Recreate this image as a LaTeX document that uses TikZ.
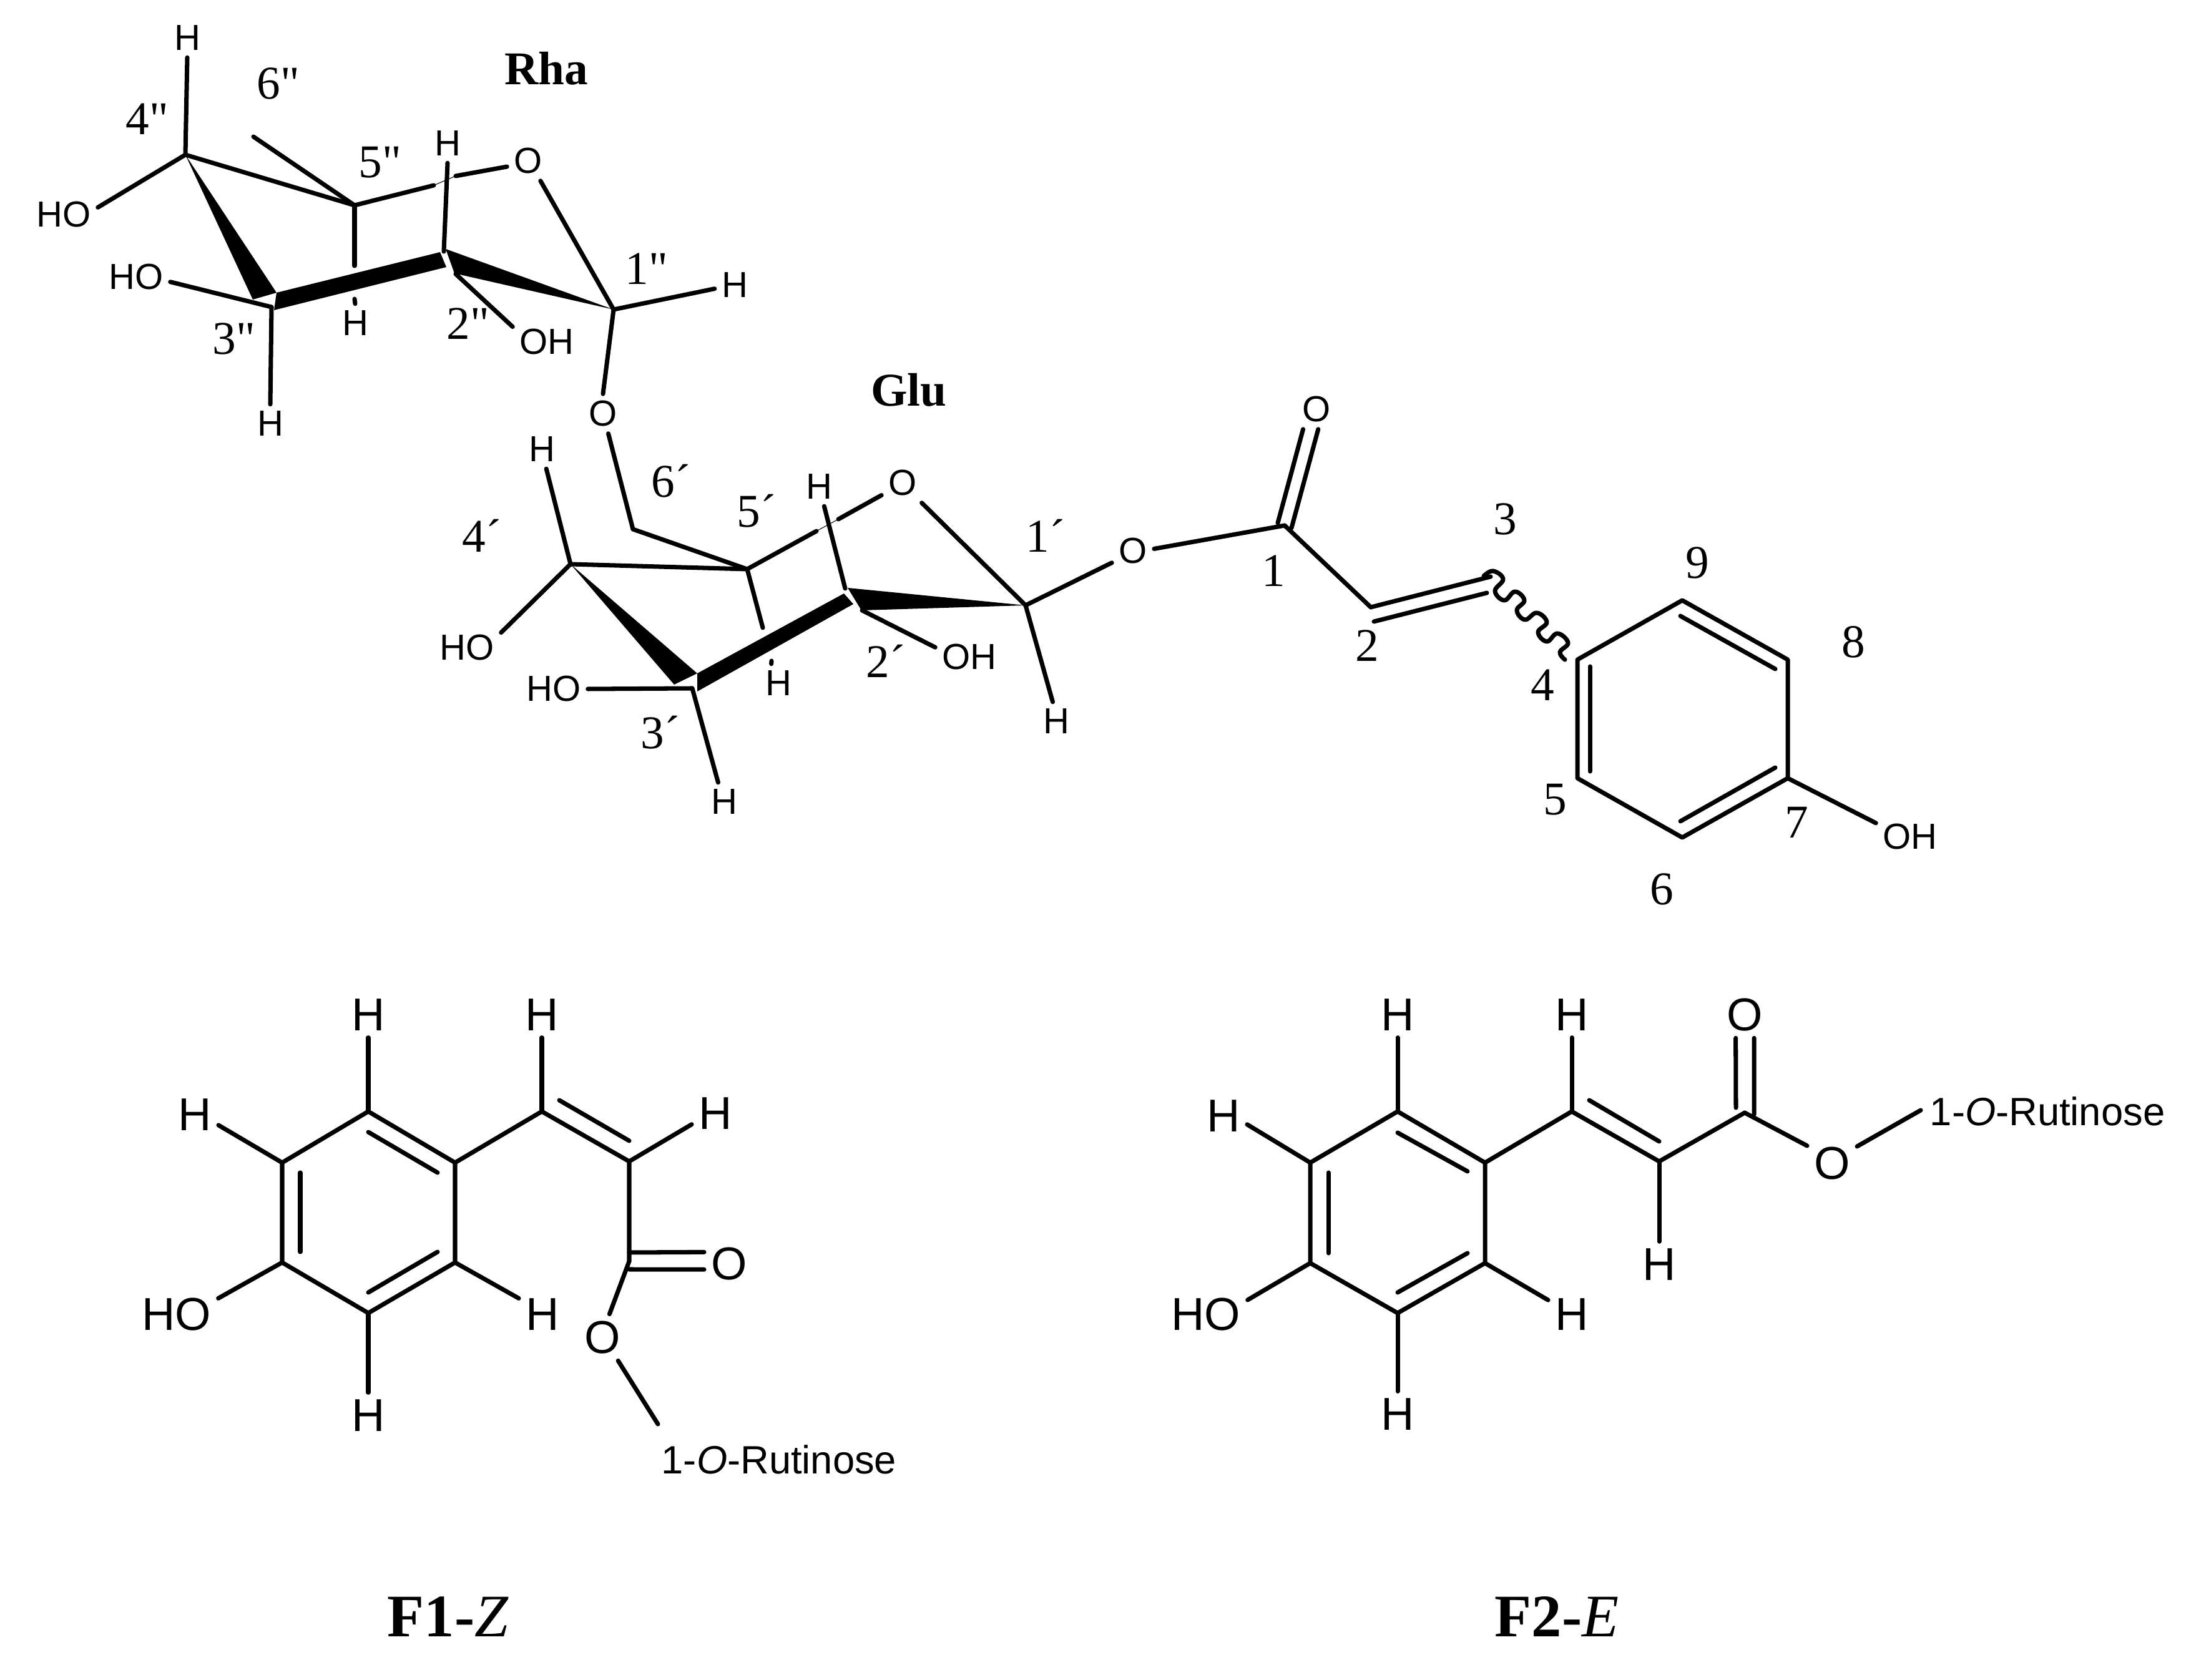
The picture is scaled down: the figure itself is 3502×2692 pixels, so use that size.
\documentclass[tikz,border=0pt]{standalone}
\usepackage{fontspec}
\setmainfont{Liberation Serif}
\newfontfamily\atomfont{Liberation Sans}
\newfontfamily\numfont{Liberation Serif}

\begin{document}
\begin{tikzpicture}[x=0.01cm, y=-0.01cm,
    atom/.style={inner sep=3pt, font=\atomfont\fontsize{16.5}{20}\selectfont},
    bigatom/.style={inner sep=3pt, font=\atomfont\fontsize{21}{25}\selectfont},
    rutin/.style={inner sep=0pt, font=\atomfont\fontsize{18}{22}\selectfont},
    num/.style={inner sep=0pt, font=\numfont\fontsize{21.4}{25}\selectfont},
    sugar/.style={inner sep=0pt, font=\bfseries\fontsize{21.4}{25}\selectfont},
    molname/.style={inner sep=0pt, font=\fontsize{27.5}{32}\selectfont},
    bond/.style={line width=2pt, line cap=round, line join=round},
    hair/.style={line width=0.3pt}]
    \useasboundingbox (0,0) rectangle (3502,2692);

    % rhamnose ring
    \coordinate (r1) at (983,496);
    \coordinate (r2) at (711,403);
    \coordinate (r3) at (435,492);
    \coordinate (r4) at (297,248);
    \coordinate (r5) at (568,329);
    \coordinate (r6) at (406,219);
    \coordinate (r2w) at (730,439);
    \coordinate (r5a) at (568,426);
    \coordinate (r5b) at (568,479);
    \coordinate (rxa) at (695,297);
    \coordinate (rxb) at (730,282);
    \node[atom] (rO) at (846,258) {O};
    \node[atom] (rH1) at (1177,457) {H};
    \node[atom] (rH2) at (717,230) {H};
    \node[atom] (rH3) at (433,679) {H};
    \node[atom] (rH4) at (300,61) {H};
    \node[atom] (rH5) at (569,518) {H};
    \node[atom] (rHO3) at (218,444) {HO};
    \node[atom] (rHO4) at (102,344) {HO};
    \node[atom] (rOH2) at (876,548) {OH};
    \node[atom] (oLink) at (966,663) {O};
    \node[num] (rn1) at (1036,431) {1"};
    \node[num] (rn2) at (750,519) {2"};
    \node[num] (rn3) at (375,543) {3"};
    \node[num] (rn4) at (236,191) {4"};
    \node[num] (rn5) at (609,260) {5"};
    \node[num] (rn6) at (446,134) {6"};
    \node[sugar] (rha) at (875,110) {Rha};
    \fill (r4) -- (405,480) -- (443,469) -- cycle;
    \fill (443,469) -- (705,404) -- (715,428) -- (439,497) -- cycle;
    \fill (714,399) -- (728,438) -- (r1) -- cycle;
    \draw[bond] (r4) -- (rH4.south);
    \draw[bond] (r4) -- (rHO4.12);
    \draw[bond] (r4) -- (r5);
    \draw[bond] (r6) -- (r5);
    \draw[bond] (r5) -- (rxa);
    \draw[hair] (rxa) -- (rxb);
    \draw[bond] (rxb) -- (rO.195);
    \draw[bond] (rO.-58) -- (r1);
    \draw[bond] (r1) -- (rH1.190);
    \draw[bond] (r1) -- (oLink.north);
    \draw[bond] (r2) -- (rH2.south);
    \draw[bond] (r5) -- (r5a);
    \draw[bond] (r5b) -- (rH5.north);
    \draw[bond] (r3) -- (rHO3.-8);
    \draw[bond] (r3) -- (rH3.north);
    \draw[bond] (r2w) -- (rOH2.156);

    % glucose ring
    \coordinate (g1) at (1643,970);
    \coordinate (g2) at (1354,943);
    \coordinate (g3) at (1109,1103);
    \coordinate (g4) at (914,904);
    \coordinate (g5) at (1197,912);
    \coordinate (g6) at (1014,848);
    \coordinate (g2w) at (1381,978);
    \coordinate (g5a) at (1222,1006);
    \coordinate (g5b) at (1236,1059);
    \coordinate (gxa) at (1308,851);
    \coordinate (gxb) at (1343,832);
    \node[atom] (gO) at (1446,774) {O};
    \node[atom] (gO1) at (1815,883) {O};
    \node[atom] (gH1) at (1692,1156) {H};
    \node[atom] (gH2) at (1312,780) {H};
    \node[atom] (gH3) at (1160,1285) {H};
    \node[atom] (gH4) at (868,720) {H};
    \node[atom] (gH5) at (1247,1095) {H};
    \node[atom] (gHO3) at (887,1104) {HO};
    \node[atom] (gHO4) at (748,1038) {HO};
    \node[atom] (gOH2) at (1553,1053) {OH};
    \node[num] (gn1) at (1675,858) {1´};
    \node[num] (gn2) at (1419,1059) {2´};
    \node[num] (gn3) at (1058,1174) {3´};
    \node[num] (gn4) at (772,858) {4´};
    \node[num] (gn5) at (1212,819) {5´};
    \node[num] (gn6) at (1075,771) {6´};
    \node[sugar] (glu) at (1456,625) {Glu};
    \fill (g4) -- (1080,1097) -- (1117,1079) -- cycle;
    \fill (1117,1079) -- (1352,951) -- (1367,968) -- (1117,1108) -- cycle;
    \fill (1358,942) -- (1380,978) -- (g1) -- cycle;
    \draw[bond] (oLink.-75) -- (g6);
    \draw[bond] (g6) -- (g5);
    \draw[bond] (g4) -- (g5);
    \draw[bond] (g4) -- (gH4.-77);
    \draw[bond] (g4) -- (gHO4.24);
    \draw[bond] (g5) -- (gxa);
    \draw[hair] (gxa) -- (gxb);
    \draw[bond] (gxb) -- (gO.210);
    \draw[bond] (gO.-46) -- (g1);
    \draw[bond] (g1) -- (gO1.209);
    \draw[bond] (g1) -- (gH1.100);
    \draw[bond] (g2) -- (gH2.-75);
    \draw[bond] (g2w) -- (gOH2.164);
    \draw[bond] (g3) -- (gHO3.east);
    \draw[bond] (g3) -- (gH3.107);
    \draw[bond] (g5) -- (g5a);
    \draw[bond] (g5b) -- (gH5.110);

    % acyl part and its ring
    \coordinate (a1) at (2058,842);
    \coordinate (a2) at (2196,973);
    \coordinate (a3) at (2388,924);
    \coordinate (a4) at (2527,1057);
    \coordinate (a5) at (2527,1247);
    \coordinate (a6) at (2695,1342);
    \coordinate (a7) at (2864,1247);
    \coordinate (a8) at (2864,1057);
    \coordinate (a9) at (2695,962);
    \coordinate (a1l) at (2047,838);
    \coordinate (a1r) at (2069,846);
    \coordinate (a2i) at (2201,996);
    \coordinate (a3i) at (2382,950);
    \coordinate (a3w) at (2377,923);
    \coordinate (a4w) at (2507,1057);
    \coordinate (i45a) at (2547,1068);
    \coordinate (i45b) at (2547,1236);
    \coordinate (i67a) at (2844,1230);
    \coordinate (i67b) at (2692,1316);
    \coordinate (i98a) at (2692,987);
    \coordinate (i98b) at (2844,1072);
    \node[atom] (aO) at (2109,656) {O};
    \node[atom] (aOH) at (3060,1341) {OH};
    \node[num] (an1) at (2040,915) {1};
    \node[num] (an2) at (2190,1035) {2};
    \node[num] (an3) at (2411,832) {3};
    \node[num] (an4) at (2471,1098) {4};
    \node[num] (an5) at (2491,1281) {5};
    \node[num] (an6) at (2662,1425) {6};
    \node[num] (an7) at (2878,1318) {7};
    \node[num] (an8) at (2969,1029) {8};
    \node[num] (an9) at (2719,902) {9};
    \draw[bond] (gO1.6) -- (a1);
    \draw[bond] (a1l) -- (aO.-124);
    \draw[bond] (a1r) -- (aO.-85);
    \draw[bond] (a1) -- (a2);
    \draw[bond] (a2) -- (a3);
    \draw[bond] (a2i) -- (a3i);
    \draw[bond] plot[smooth, tension=0.7] coordinates {(a3w) (2392,915) (2408,928) (2395,947) (2410,962) (2427,948) (2442,962) (2430,978) (2443,993) (2462,982) (2478,997) (2464,1013) (2478,1028) (2495,1015) (2512,1030) (2499,1045) (a4w)};
    \draw[bond] (a4) -- (a5) -- (a6) -- (a7) -- (a8) -- (a9) -- cycle;
    \draw[bond] (i45a) -- (i45b);
    \draw[bond] (i67a) -- (i67b);
    \draw[bond] (i98a) -- (i98b);
    \draw[bond] (a7) -- (aOH.158);

    % F1-Z
    \coordinate (z1) at (590,1781);
    \coordinate (z2) at (729,1863);
    \coordinate (z3) at (729,2023);
    \coordinate (z4) at (590,2104);
    \coordinate (z5) at (452,2023);
    \coordinate (z6) at (452,1863);
    \coordinate (z7) at (868,1781);
    \coordinate (z8) at (1008,1861);
    \coordinate (z9) at (1008,2021);
    \coordinate (z9a) at (1008,2007);
    \coordinate (z9b) at (1008,2034);
    \coordinate (i12a) at (590,1814);
    \coordinate (i12b) at (701,1879);
    \coordinate (i34a) at (701,2006);
    \coordinate (i34b) at (590,2071);
    \coordinate (i56a) at (481,1879);
    \coordinate (i56b) at (481,2006);
    \coordinate (i78a) at (896,1763);
    \coordinate (i78b) at (1008,1828);
    \coordinate (zEnd) at (1054,2282);
    \node[bigatom] (zHa) at (590,1626) {H};
    \node[bigatom] (zHb) at (868,1626) {H};
    \node[bigatom] (zHc) at (312,1786) {H};
    \node[bigatom] (zHd) at (1146,1784) {H};
    \node[bigatom] (zHe) at (869,2106) {H};
    \node[bigatom] (zHf) at (590,2268) {H};
    \node[bigatom] (zHO) at (283,2106) {HO};
    \node[bigatom] (zO) at (1168,2025) {O};
    \node[bigatom] (zOb) at (965,2143) {O};
    \node[rutin] (zRut) at (1248,2339) {1-\textit{O}-Rutinose};
    \node[molname] (zName) at (718,2591) {\textbf{F1-}\textit{Z}};
    \draw[bond] (z1) -- (z2) -- (z3) -- (z4) -- (z5) -- (z6) -- cycle;
    \draw[bond] (i12a) -- (i12b);
    \draw[bond] (i34a) -- (i34b);
    \draw[bond] (i56a) -- (i56b);
    \draw[bond] (z2) -- (z7) -- (z8) -- (z9);
    \draw[bond] (i78a) -- (i78b);
    \draw[bond] (z1) -- (zHa.south);
    \draw[bond] (z7) -- (zHb.south);
    \draw[bond] (z6) -- (zHc.-24);
    \draw[bond] (z8) -- (zHd.205);
    \draw[bond] (z3) -- (zHe.146);
    \draw[bond] (z4) -- (zHf.north);
    \draw[bond] (z5) -- (zHO.21);
    \draw[bond] (z9a) -- (zO.155);
    \draw[bond] (z9b) -- (zO.193);
    \draw[bond] (z9) -- (zOb.73);
    \draw[bond] (zOb.-56) -- (zEnd);

    % F2-E
    \coordinate (e1) at (2239,1781);
    \coordinate (e2) at (2379,1863);
    \coordinate (e3) at (2379,2024);
    \coordinate (e4) at (2239,2104);
    \coordinate (e5) at (2099,2024);
    \coordinate (e6) at (2099,1863);
    \coordinate (e7) at (2518,1781);
    \coordinate (e8) at (2658,1861);
    \coordinate (e9) at (2795,1783);
    \coordinate (e9a) at (2781,1775);
    \coordinate (e9b) at (2810,1786);
    \coordinate (j12a) at (2239,1815);
    \coordinate (j12b) at (2351,1877);
    \coordinate (j34a) at (2351,2008);
    \coordinate (j34b) at (2239,2071);
    \coordinate (j56a) at (2128,1879);
    \coordinate (j56b) at (2128,2008);
    \coordinate (j78a) at (2546,1763);
    \coordinate (j78b) at (2658,1829);
    \coordinate (eEnd) at (3077,1779);
    \node[bigatom] (eHa) at (2239,1626) {H};
    \node[bigatom] (eHb) at (2518,1626) {H};
    \node[bigatom] (eHc) at (1960,1788) {H};
    \node[bigatom] (eHd) at (2658,2026) {H};
    \node[bigatom] (eHe) at (2518,2106) {H};
    \node[bigatom] (eHf) at (2239,2266) {H};
    \node[bigatom] (eHO) at (1932,2106) {HO};
    \node[bigatom] (eO) at (2795,1626) {O};
    \node[bigatom] (eOb) at (2935,1864) {O};
    \node[rutin] (eRut) at (3280,1781) {1-\textit{O}-Rutinose};
    \node[molname] (eName) at (2494,2590) {\textbf{F2-}\textit{E}};
    \draw[bond] (e1) -- (e2) -- (e3) -- (e4) -- (e5) -- (e6) -- cycle;
    \draw[bond] (j12a) -- (j12b);
    \draw[bond] (j34a) -- (j34b);
    \draw[bond] (j56a) -- (j56b);
    \draw[bond] (e2) -- (e7) -- (e8) -- (e9);
    \draw[bond] (j78a) -- (j78b);
    \draw[bond] (e1) -- (eHa.south);
    \draw[bond] (e7) -- (eHb.south);
    \draw[bond] (e6) -- (eHc.-20);
    \draw[bond] (e8) -- (eHd.north);
    \draw[bond] (e3) -- (eHe.149);
    \draw[bond] (e4) -- (eHf.north);
    \draw[bond] (e5) -- (eHO.19);
    \draw[bond] (e9a) -- (eO.-111);
    \draw[bond] (e9b) -- (eO.-68);
    \draw[bond] (e9) -- (eOb.145);
    \draw[bond] (eOb.34) -- (eEnd);
\end{tikzpicture}
\end{document}
